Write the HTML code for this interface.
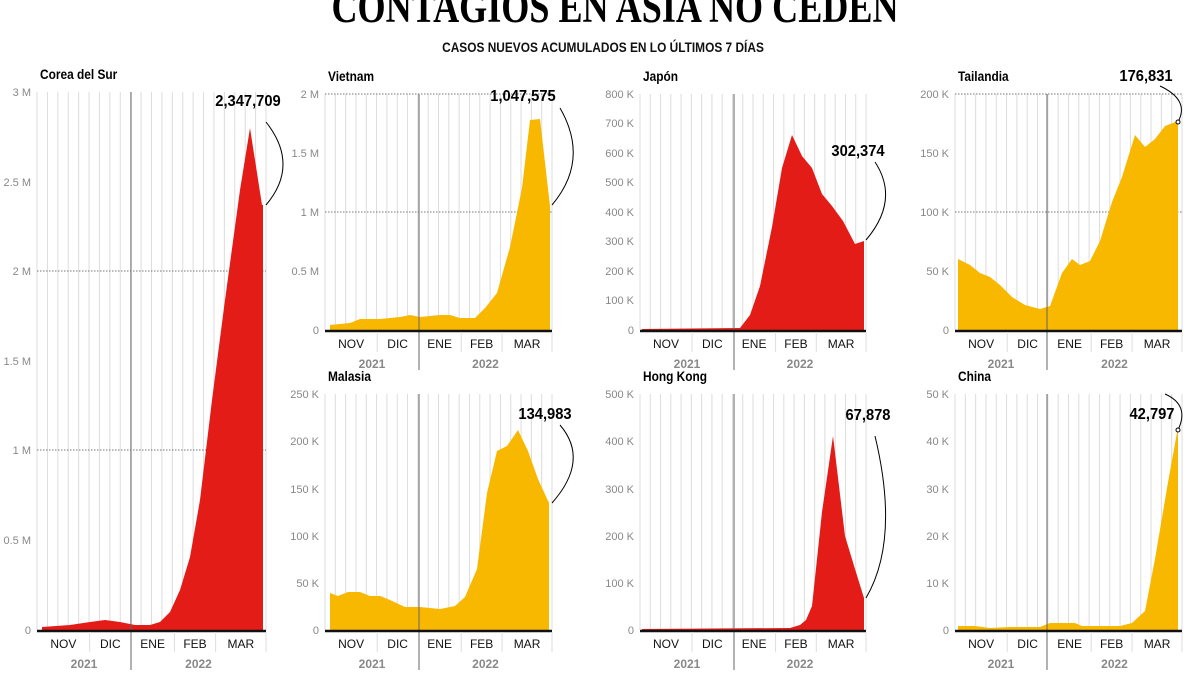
<!DOCTYPE html>
<html><head><meta charset="utf-8">
<style>
body{margin:0;background:#fff;width:1200px;height:675px;overflow:hidden}
svg text{font-family:"Liberation Sans",sans-serif}
</style></head><body>
<svg id="s" width="1200" height="675" xmlns="http://www.w3.org/2000/svg">
<text x="615" y="22" text-anchor="middle" font-weight="bold" font-size="46" transform="translate(615,0) scale(0.785,1) translate(-615,0)" style="font-family:'Liberation Serif',serif">CONTAGIOS EN ASIA NO CEDEN</text>
<text x="603" y="52" text-anchor="middle" font-size="14" font-weight="bold" transform="translate(603,0) scale(0.85,1) translate(-603,0)" fill="#111">CASOS NUEVOS ACUMULADOS EN LO ÚLTIMOS 7 DÍAS</text>
</svg>
<script>
const S=document.getElementById('s');let h='';
const R='#e31c17',Y='#f9b800';
function panel(p){
 const {x0,x1,top,bot,div,title,ticks,dotted,data,col,ann,ax,ay,curve,circ}=p;
 h+=`<text x="${x0+3}" y="${top-13}" font-size="14" font-weight="bold" transform="translate(${x0+3},0) scale(0.85,1) translate(${-x0-3},0)">${title}</text>`;
 const n=22,step=(x1-x0)/n;
 for(let i=0;i<=n;i++){const x=x0+i*step;h+=`<line x1="${x}" y1="${top}" x2="${x}" y2="${bot}" stroke="#dcdcdc" stroke-width="1"/>`;}
 ticks.forEach(t=>{h+=`<text x="${x0-6}" y="${t[1]+4}" font-size="11" fill="#888" text-anchor="end">${t[0]}</text>`;});
 dotted.forEach(y=>{h+=`<line x1="${x0}" y1="${y}" x2="${x1}" y2="${y}" stroke="#777" stroke-dasharray="1.5,1.5"/>`;});
 let d=`M${data[0][0]},${bot} `+data.map(q=>`L${q[0]},${q[1]}`).join(' ')+` L${data[data.length-1][0]},${bot}Z`;
 h+=`<path d="${d}" fill="${col}"/>`;
 h+=`<line x1="${div}" y1="${top}" x2="${div}" y2="${bot+40}" stroke="#666"/>`;
 h+=`<line x1="${x0}" y1="${bot+1}" x2="${x1}" y2="${bot+1}" stroke="#111" stroke-width="2.5"/>`;
 const w=x1-x0;const ms=[0,0.23,0.41,0.6,0.78,1];const names=['NOV','DIC','ENE','FEB','MAR'];
 for(let i=0;i<5;i++){const cx=x0+w*(ms[i]+ms[i+1])/2;h+=`<text x="${cx}" y="${bot+18}" font-size="12" text-anchor="middle" fill="#111">${names[i]}</text>`;
  if(i>0&&i!=2)h+=`<line x1="${x0+w*ms[i]}" y1="${bot+2}" x2="${x0+w*ms[i]}" y2="${bot+22}" stroke="#ddd"/>`;}
 h+=`<line x1="${x1}" y1="${bot+2}" x2="${x1}" y2="${bot+22}" stroke="#ddd"/>`;
 h+=`<text x="${(x0+div)/2}" y="${bot+38}" font-size="12" font-weight="bold" fill="#888" text-anchor="middle">2021</text>`;
 h+=`<text x="${(div+x1)/2}" y="${bot+38}" font-size="12" font-weight="bold" fill="#888" text-anchor="middle">2022</text>`;
 h+=`<text x="${ax}" y="${ay}" font-size="16" font-weight="bold" text-anchor="middle" fill="#000" transform="translate(${ax},0) scale(0.92,1) translate(${-ax},0)">${ann}</text>`;
 h+=`<path d="${curve}" fill="none" stroke="#000" stroke-width="1"/>`;
 if(circ)h+=`<circle cx="${circ[0]}" cy="${circ[1]}" r="2" fill="#fff" stroke="#000"/>`;
}
panel({x0:37,x1:266,top:92,bot:630,div:131,title:'Corea del Sur',ticks:[['3 M',92],['2.5 M',182],['2 M',271],['1.5 M',361],['1 M',450],['0.5 M',540],['0',630]],dotted:[271,450],col:R,
 data:[[42,627],[70,625],[90,622],[105,620],[120,622],[135,625],[150,625],[160,622],[170,612],[180,590],[190,557],[200,500],[212,400],[225,300],[240,190],[250,128],[262,205],[263,205]],ann:'2,347,709',ax:248,ay:106,curve:'M266,205 Q300,165 266,122'});
panel({x0:325,x1:552,top:94,bot:330,div:419,title:'Vietnam',ticks:[['2 M',94],['1.5 M',153],['1 M',212],['0.5 M',271],['0',330]],dotted:[94,212],col:Y,
 data:[[330,325],[350,323],[360,319],[380,319],[400,317],[410,315],[420,317],[440,315],[450,315],[460,318],[475,318],[485,308],[497,293],[510,247],[522,188],[530,120],[540,119],[550,206]],ann:'1,047,575',ax:523,ay:101,curve:'M552,205 Q590,160 560,108'});
panel({x0:640,x1:866,top:94,bot:330,div:734,title:'Japón',ticks:[['800 K',94],['700 K',123],['600 K',153],['500 K',182],['400 K',212],['300 K',241],['200 K',271],['100 K',300],['0',330]],dotted:[],col:R,
 data:[[642,329],[740,328],[750,315],[760,286],[772,227],[782,168],[792,135],[802,156],[812,168],[822,194],[832,206],[843,221],[855,244],[864,241]],ann:'302,374',ax:858,ay:156,curve:'M866,240 Q900,200 875,162'});
panel({x0:955,x1:1182,top:94,bot:330,div:1047,title:'Tailandia',ticks:[['200 K',94],['150 K',153],['100 K',212],['50 K',271],['0',330]],dotted:[94,212],col:Y,
 data:[[958,259],[970,265],[980,273],[990,277],[1000,285],[1012,297],[1025,305],[1040,309],[1050,306],[1062,273],[1072,259],[1080,265],[1090,261],[1100,241],[1112,202],[1122,177],[1135,135],[1145,147],[1155,139],[1165,126],[1178,121]],ann:'176,831',ax:1146,ay:81,curve:'M1178,122 Q1190,100 1160,86',circ:[1178,122]});
panel({x0:325,x1:552,top:394,bot:630,div:419,title:'Malasia',ticks:[['250 K',394],['200 K',441],['150 K',489],['100 K',536],['50 K',583],['0',630]],dotted:[],col:Y,
 data:[[330,593],[338,596],[348,592],[360,592],[370,596],[380,596],[390,600],[405,607],[420,607],[440,609],[455,606],[465,597],[477,569],[487,493],[497,451],[507,446],[518,430],[528,451],[538,479],[549,503]],ann:'134,983',ax:545,ay:419,curve:'M552,503 Q590,460 560,425'});
panel({x0:640,x1:866,top:394,bot:630,div:734,title:'Hong Kong',ticks:[['500 K',394],['400 K',441],['300 K',489],['200 K',536],['100 K',583],['0',630]],dotted:[],col:R,
 data:[[642,629],[790,628],[800,625],[806,620],[812,606],[822,512],[833,436],[845,536],[855,569],[864,598]],ann:'67,878',ax:868,ay:420,curve:'M866,598 Q900,540 875,436'});
panel({x0:955,x1:1182,top:394,bot:630,div:1047,title:'China',ticks:[['50 K',394],['40 K',441],['30 K',489],['20 K',536],['10 K',583],['0',630]],dotted:[],col:Y,
 data:[[958,626],[975,626],[990,628],[1010,627],[1040,627],[1050,623],[1075,623],[1082,626],[1120,626],[1132,623],[1145,611],[1155,559],[1167,488],[1178,427]],ann:'42,797',ax:1152,ay:419,curve:'M1178,430 Q1190,405 1165,394',circ:[1178,430]});
S.innerHTML+=h;
</script>
</body></html>
